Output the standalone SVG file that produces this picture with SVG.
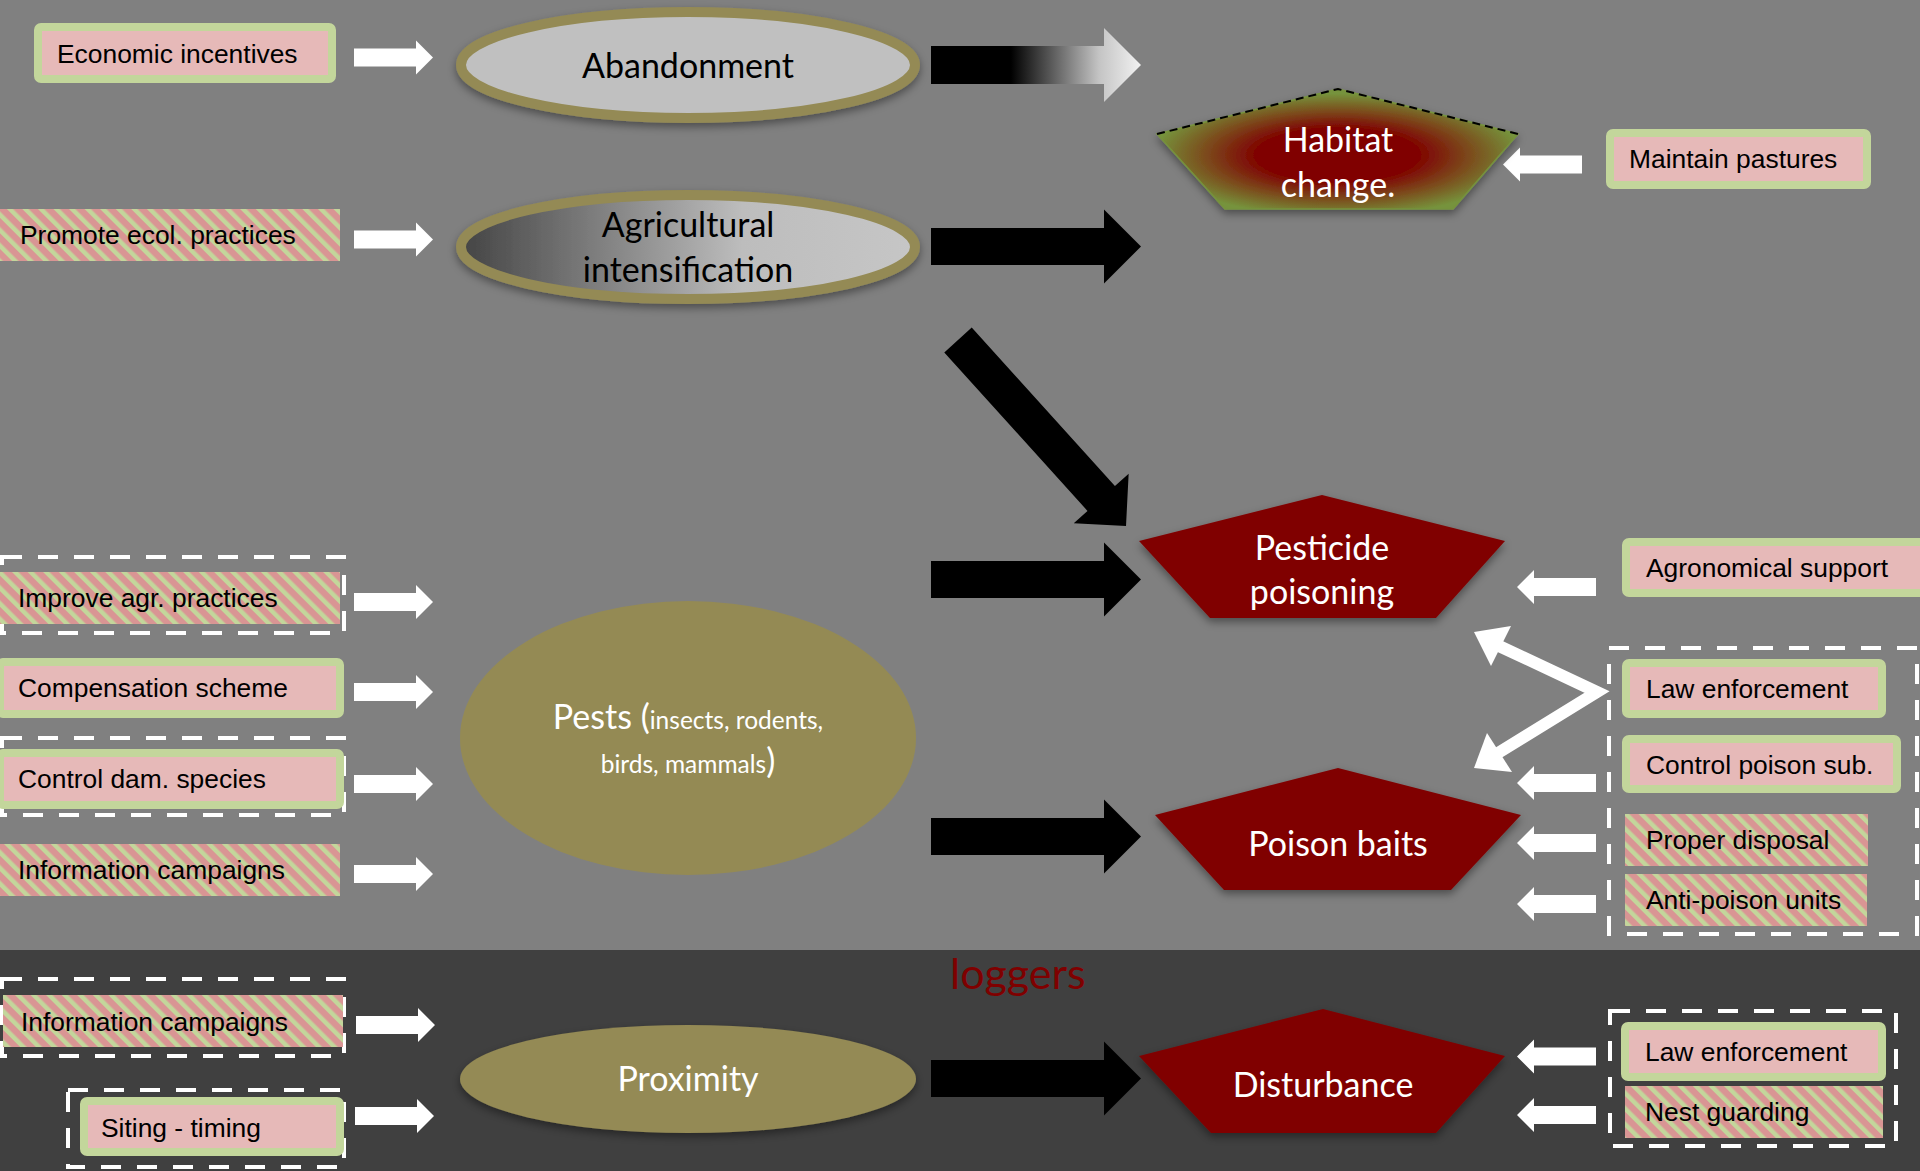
<svg xmlns="http://www.w3.org/2000/svg" width="1920" height="1171" viewBox="0 0 1920 1171">
<defs>
<style>
.solid{fill:#e6b9b8;stroke:#c3d69b;stroke-width:8}
.striped{fill:url(#stripes)}
.btxt{font-family:"Liberation Sans",Arial,sans-serif;font-size:26.4px;fill:#000}
.ctxt{font-family:Lato,"Open Sans",sans-serif;font-size:34px;text-anchor:middle}
.dash{fill:none;stroke:#fff;stroke-width:4;stroke-dasharray:20 16}
.red{fill:#800000}
.olive{fill:#948a54}
.warr{fill:#fff}
.barr{fill:#000}
</style>
<pattern id="stripes" patternUnits="userSpaceOnUse" width="11" height="11" patternTransform="rotate(-45)">
<rect width="11" height="11" fill="#d99594"/>
<rect width="4.5" height="11" fill="#c3d69b"/>
</pattern>
<linearGradient id="agriGrad" x1="0" y1="0" x2="1" y2="0">
<stop offset="0" stop-color="#444"/>
<stop offset="0.62" stop-color="#bdbdbd"/>
<stop offset="1" stop-color="#c6c6c6"/>
</linearGradient>
<linearGradient id="fadeArr" gradientUnits="userSpaceOnUse" x1="931" y1="0" x2="1141" y2="0">
<stop offset="0" stop-color="#000"/>
<stop offset="0.38" stop-color="#000"/>
<stop offset="0.8" stop-color="#c4c4c4"/>
<stop offset="1" stop-color="#f2f2f2"/>
</linearGradient>
<radialGradient id="habGrad" cx="0.5" cy="0.55" r="0.55">
<stop offset="0" stop-color="#800000"/>
<stop offset="0.4" stop-color="#800000"/>
<stop offset="0.72" stop-color="#7a5a22"/>
<stop offset="0.93" stop-color="#76933c"/>
</radialGradient>
<filter id="shadow" x="-10%" y="-20%" width="120%" height="150%">
<feDropShadow dx="0" dy="4" stdDeviation="4" flood-color="#000" flood-opacity="0.4"/>
</filter>
<path id="whiteArrow" d="M0,-9 H62 V-17 L79,0 L62,17 V9 H0 Z"/>
<path id="blackArrow" d="M0,-18.5 H173 V-37 L210,0 L173,37 V18.5 H0 Z"/>
</defs>

<rect x="0" y="0" width="1920" height="950" fill="#808080"/>
<rect x="0" y="950" width="1920" height="221" fill="#404040"/>

<text id="loggers" x="950" y="989" font-family="Lato,'Open Sans',sans-serif" font-size="43" fill="#7f0000">loggers</text>

<g id="connectors">
<use href="#whiteArrow" class="warr" transform="translate(354,57.5)"/>
<use href="#whiteArrow" class="warr" transform="translate(354,239.5)"/>
<use href="#whiteArrow" class="warr" transform="translate(354,602)"/>
<use href="#whiteArrow" class="warr" transform="translate(354,692)"/>
<use href="#whiteArrow" class="warr" transform="translate(354,784)"/>
<use href="#whiteArrow" class="warr" transform="translate(354,874)"/>
<use href="#whiteArrow" class="warr" transform="translate(356,1025)"/>
<use href="#whiteArrow" class="warr" transform="translate(355,1116)"/>
<use href="#whiteArrow" class="warr" transform="translate(1582,164.5) scale(-1,1)"/>
<use href="#whiteArrow" class="warr" transform="translate(1596,587) scale(-1,1)"/>
<use href="#whiteArrow" class="warr" transform="translate(1596,783) scale(-1,1)"/>
<use href="#whiteArrow" class="warr" transform="translate(1596,843) scale(-1,1)"/>
<use href="#whiteArrow" class="warr" transform="translate(1596,904) scale(-1,1)"/>
<use href="#whiteArrow" class="warr" transform="translate(1596,1056.5) scale(-1,1)"/>
<use href="#whiteArrow" class="warr" transform="translate(1596,1115) scale(-1,1)"/>
<path d="M1499,646 L1597,692 L1498,753" fill="none" stroke="#fff" stroke-width="12" stroke-linejoin="miter" stroke-miterlimit="10"/>
<polygon points="1474,632 1511,626 1491,666" fill="#fff"/>
<polygon points="1474,768 1512,772 1487,733" fill="#fff"/>
<path d="M931,46 H1104 V28 L1141,65 L1104,102 V84 H931 Z" fill="url(#fadeArr)"/>
<use href="#blackArrow" class="barr" transform="translate(931,246.5)"/>
<use href="#blackArrow" class="barr" transform="translate(931,579.5)"/>
<use href="#blackArrow" class="barr" transform="translate(931,836.5)"/>
<use href="#blackArrow" class="barr" transform="translate(931,1078.5)"/>
<path d="M0,-18.5 H213.6 V-37 L250.6,0 L213.6,37 V18.5 H0 Z" class="barr" transform="translate(958,340) rotate(47.9)"/>
</g>

<g id="economic-incentives">
<rect class="solid" x="38" y="27" width="294" height="52" rx="3"/>
<text class="btxt" x="57" y="63">Economic incentives</text>
</g>
<g id="promote-ecol-practices">
<rect class="striped" x="0" y="209" width="340" height="52"/>
<text class="btxt" x="20" y="244">Promote ecol. practices</text>
</g>
<g id="improve-agr-practices">
<rect class="dash" x="2" y="557" width="342" height="76"/>
<rect class="striped" x="0" y="572" width="340" height="52"/>
<text class="btxt" x="18" y="607">Improve agr. practices</text>
</g>
<g id="compensation-scheme">
<rect class="solid" x="0" y="662" width="340" height="52" rx="3"/>
<text class="btxt" x="18" y="697">Compensation scheme</text>
</g>
<g id="control-dam-species">
<rect class="dash" x="2" y="738" width="342" height="77"/>
<rect class="solid" x="0" y="753" width="340" height="52" rx="3"/>
<text class="btxt" x="18" y="788">Control dam. species</text>
</g>
<g id="information-campaigns-1">
<rect class="striped" x="0" y="844" width="340" height="52"/>
<text class="btxt" x="18" y="879">Information campaigns</text>
</g>
<g id="information-campaigns-2">
<rect class="dash" x="2" y="979" width="342" height="77"/>
<rect class="striped" x="3" y="995" width="340" height="52"/>
<text class="btxt" x="21" y="1031">Information campaigns</text>
</g>
<g id="siting-timing">
<rect class="dash" x="68" y="1090" width="276" height="77"/>
<rect class="solid" x="84" y="1101" width="256" height="51" rx="3"/>
<text class="btxt" x="101" y="1137">Siting - timing</text>
</g>

<g id="abandonment">
<ellipse cx="688" cy="65" rx="227" ry="53" fill="#c0c0c0" stroke="#948a54" stroke-width="10" filter="url(#shadow)"/>
<text class="ctxt" x="688" y="78" fill="#000">Abandonment</text>
</g>
<g id="agricultural-intensification">
<ellipse cx="688" cy="247" rx="227" ry="52" fill="url(#agriGrad)" stroke="#948a54" stroke-width="10" filter="url(#shadow)"/>
<text class="ctxt" x="688" y="237" fill="#000">Agricultural</text>
<text class="ctxt" x="688" y="282" fill="#000">intensification</text>
</g>
<g id="pests">
<ellipse class="olive" cx="688" cy="738" rx="228" ry="137"/>
<text x="688" y="729" text-anchor="middle" font-family="Lato,'Open Sans',sans-serif" fill="#fff"><tspan font-size="34">Pests (</tspan><tspan font-size="24.5">insects, rodents,</tspan></text>
<text x="688" y="773" text-anchor="middle" font-family="Lato,'Open Sans',sans-serif" fill="#fff"><tspan font-size="24.5">birds, mammals</tspan><tspan font-size="34">)</tspan></text>
</g>
<g id="proximity">
<ellipse class="olive" cx="688" cy="1079" rx="228" ry="54" filter="url(#shadow)"/>
<text class="ctxt" x="688" y="1091" fill="#fff">Proximity</text>
</g>

<g id="habitat-change">
<polygon points="1338,89 1518,134 1453,209 1225,209 1157,134" fill="url(#habGrad)" stroke="#76933c" stroke-width="1.5" filter="url(#shadow)"/>
<polyline points="1157,134 1338,89 1518,134" fill="none" stroke="#000" stroke-width="2" stroke-dasharray="8 5"/>
<text class="ctxt" x="1338" y="152" fill="#fff">Habitat</text>
<text class="ctxt" x="1338" y="197" fill="#fff">change.</text>
</g>
<g id="pesticide-poisoning">
<polygon class="red" points="1322,495 1505,541 1436,618 1210,618 1139,541" filter="url(#shadow)"/>
<text class="ctxt" x="1322" y="560" fill="#fff">Pesticide</text>
<text class="ctxt" x="1322" y="604" fill="#fff">poisoning</text>
</g>
<g id="poison-baits">
<polygon class="red" points="1338,768 1521,815 1451,890 1224,890 1155,815" filter="url(#shadow)"/>
<text class="ctxt" x="1338" y="856" fill="#fff">Poison baits</text>
</g>
<g id="disturbance">
<polygon class="red" points="1323,1009 1505,1056 1436,1133 1211,1133 1139,1056" filter="url(#shadow)"/>
<text class="ctxt" x="1323" y="1097" fill="#fff">Disturbance</text>
</g>

<g id="maintain-pastures">
<rect class="solid" x="1610" y="133" width="257" height="52" rx="3"/>
<text class="btxt" x="1629" y="168">Maintain pastures</text>
</g>
<g id="agronomical-support">
<rect class="solid" x="1626" y="542" width="310" height="51" rx="3"/>
<text class="btxt" x="1646" y="577">Agronomical support</text>
</g>
<g id="poison-measures">
<rect class="dash" x="1609" y="648" width="308" height="286"/>
</g>
<g id="law-enforcement-1">
<rect class="solid" x="1626" y="663" width="256" height="51" rx="3"/>
<text class="btxt" x="1646" y="698">Law enforcement</text>
</g>
<g id="control-poison-sub">
<rect class="solid" x="1626" y="739" width="271" height="50" rx="3"/>
<text class="btxt" x="1646" y="774">Control poison sub.</text>
</g>
<g id="proper-disposal">
<rect class="striped" x="1625" y="814" width="243" height="52"/>
<text class="btxt" x="1646" y="849">Proper disposal</text>
</g>
<g id="anti-poison-units">
<rect class="striped" x="1625" y="874" width="242" height="52"/>
<text class="btxt" x="1646" y="909">Anti-poison units</text>
</g>
<g id="disturbance-measures">
<rect class="dash" x="1610" y="1011" width="286" height="135"/>
</g>
<g id="law-enforcement-2">
<rect class="solid" x="1625" y="1026" width="257" height="51" rx="3"/>
<text class="btxt" x="1645" y="1061">Law enforcement</text>
</g>
<g id="nest-guarding">
<rect class="striped" x="1625" y="1086" width="258" height="52"/>
<text class="btxt" x="1645" y="1121">Nest guarding</text>
</g>
</svg>
